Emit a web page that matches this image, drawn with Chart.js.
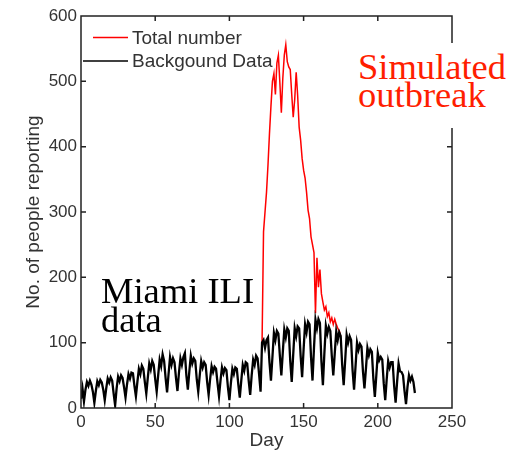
<!DOCTYPE html>
<html>
<head>
<meta charset="utf-8">
<script src="https://cdn.jsdelivr.net/npm/chart.js@4"></script>
<style>
  body { margin: 0; background: #fff; }
  .wrap { position: relative; width: 517px; height: 456px; }
  .note { position: absolute; font-family: "Liberation Serif", "Times New Roman", serif; white-space: nowrap; }
  .outbreak { left: 352px; top: 43px; width: 159px; height: 75px; padding: 10px 0 0 6px; background: #fff; color: #ff1e00; font-size: 36.5px; line-height: 28px; }
  .miami { left: 101px; top: 276px; color: #000; font-size: 36.5px; line-height: 29px; }
</style>
</head>
<body>
<div class="wrap">
  <canvas id="chart" width="517" height="456"></canvas>
  <div class="note outbreak">Simulated<br>outbreak</div>
  <div class="note miami">Miami ILI<br>data</div>
</div>
<script>
// daily background counts, day 0 .. 225
const background = [
  14, 30, 10, 28, 40, 34, 42,
  36, 25, 8, 26, 41, 35, 43,
  39, 28, 12, 30, 45, 39, 47,
  42, 22, 4, 30, 48, 41, 50,
  46, 32, 16, 36, 52, 45, 54,
  53, 34, 18, 40, 60, 52, 65,
  60, 40, 22, 46, 68, 59, 72,
  66, 44, 25, 50, 74, 64, 82,
  72, 46, 24, 52, 78, 66, 76,
  70, 46, 26, 54, 76, 66, 78,
  84, 50, 28, 56, 80, 68, 76,
  72, 44, 25, 50, 72, 62, 70,
  66, 40, 20, 44, 64, 55, 63,
  60, 38, 18, 42, 62, 53, 61,
  58, 32, 12, 38, 60, 52, 62,
  60, 36, 16, 42, 66, 57, 70,
  68, 42, 20, 50, 74, 66, 80,
  76, 52, 25, 100, 104, 92, 104,
  108, 70, 42, 78, 115, 104, 118,
  114, 80, 50, 86, 120, 108, 122,
  118, 72, 40, 82, 122, 110, 125,
  122, 80, 47, 90, 128, 116, 132,
  128, 78, 42, 92, 135, 122, 136,
  130, 72, 35, 84, 126, 114, 124,
  118, 80, 50, 84, 117, 104, 116,
  110, 66, 35, 72, 112, 100, 110,
  104, 58, 28, 64, 100, 89, 98,
  94, 56, 30, 60, 92, 81, 90,
  86, 45, 17, 50, 84, 73, 78,
  74, 38, 12, 44, 72, 62, 70,
  70, 34, 8, 40, 68, 56, 55,
  50, 26, 6, 32, 50, 42, 48,
  40, 23
];

// total (background + simulated outbreak), only where it rises above background
const totalStart = 122;
const total = [
  100, 270, 300, 330, 372, 420, 462, 500, 512, 480,
  528, 540, 498, 452, 505, 540, 556, 530, 522, 518,
  480, 445, 472, 514, 478, 430, 410, 382, 364, 352,
  330, 303, 290, 262, 250, 238, 145, 230, 185, 212,
  175, 162, 150, 155, 140, 146, 132, 138, 128, 136,
  128, 122, 118, 110
];

const xTicks = [0, 50, 100, 150, 200, 250];
const yTicks = [0, 100, 200, 300, 400, 500, 600];

const seriesNames = ["Total number", "Backgound Data"];
const seriesColors = ["#ff0000", "#000000"];

const backgroundPoints = background.map((v, i) => ({ x: i, y: v }));
const totalPoints = total.map((v, i) => ({ x: totalStart + i, y: v }));

const tickFont = { family: "'Liberation Sans', Arial, sans-serif", size: 17 };
const titleFont = { family: "'Liberation Sans', Arial, sans-serif", size: 19 };

// box with inward ticks on all sides, plus the legend inside the axes
const boxAndLegend = {
  id: "boxAndLegend",
  afterDatasetsDraw(chart) {
    const { ctx, chartArea: a, scales } = chart;
    ctx.save();
    ctx.strokeStyle = "#222";
    ctx.lineWidth = 1.5;
    ctx.strokeRect(a.left, a.top, a.right - a.left, a.bottom - a.top);

    ctx.beginPath();
    scales.x.ticks.forEach((t) => {
      const px = scales.x.getPixelForValue(t.value);
      if (px <= a.left + 1 || px >= a.right - 1) return;
      ctx.moveTo(px, a.bottom);
      ctx.lineTo(px, a.bottom - 5);
      ctx.moveTo(px, a.top);
      ctx.lineTo(px, a.top + 5);
    });
    scales.y.ticks.forEach((t) => {
      const py = scales.y.getPixelForValue(t.value);
      if (py <= a.top + 1 || py >= a.bottom - 1) return;
      ctx.moveTo(a.left, py);
      ctx.lineTo(a.left + 5, py);
      ctx.moveTo(a.right, py);
      ctx.lineTo(a.right - 5, py);
    });
    ctx.stroke();

    // legend
    const rows = [
      { y: 37.5, x0: 93 },
      { y: 61, x0: 83 },
    ];
    ctx.font = "19px 'Liberation Sans', Arial, sans-serif";
    ctx.textBaseline = "middle";
    ctx.textAlign = "left";
    rows.forEach((r, i) => {
      ctx.strokeStyle = seriesColors[i];
      ctx.lineWidth = 1.5;
      ctx.beginPath();
      ctx.moveTo(r.x0, r.y);
      ctx.lineTo(128, r.y);
      ctx.stroke();
      ctx.fillStyle = "#333";
      ctx.fillText(seriesNames[i], 132, r.y + 1);
    });
    ctx.restore();
  },
};

new Chart(document.getElementById("chart"), {
  type: "line",
  data: {
    datasets: [
      {
        label: seriesNames[0],
        data: totalPoints,
        borderColor: seriesColors[0],
        borderWidth: 1.5,
        pointRadius: 0,
        tension: 0,
        order: 1,
      },
      {
        label: seriesNames[1],
        data: backgroundPoints,
        borderColor: seriesColors[1],
        borderWidth: 2.3,
        pointRadius: 0,
        tension: 0,
        order: 0,
      },
    ],
  },
  options: {
    responsive: false,
    animation: false,
    layout: { padding: { left: 0, top: 16, right: 65, bottom: 0 } },
    plugins: {
      legend: { display: false },
      tooltip: { enabled: false },
    },
    scales: {
      x: {
        type: "linear",
        min: 0,
        max: 250,
        afterBuildTicks: (s) => { s.ticks = xTicks.map((v) => ({ value: v })); },
        afterFit: (s) => { s.height = 48; },
        grid: { display: false, drawTicks: false },
        border: { display: false },
        ticks: { color: "#333", font: tickFont, padding: 4, maxRotation: 0 },
        title: { display: true, text: "Day", color: "#333", font: titleFont, padding: { top: 0, bottom: 4 } },
      },
      y: {
        min: 0,
        max: 600,
        afterBuildTicks: (s) => { s.ticks = yTicks.map((v) => ({ value: v })); },
        afterFit: (s) => { s.width = 81; },
        grid: { display: false, drawTicks: false },
        border: { display: false },
        ticks: { color: "#333", font: tickFont, padding: 4 },
        title: { display: true, text: "No. of people reporting", color: "#333", font: titleFont, padding: { top: 22, bottom: 0 } },
      },
    },
  },
  plugins: [boxAndLegend],
});
</script>
</body>
</html>
